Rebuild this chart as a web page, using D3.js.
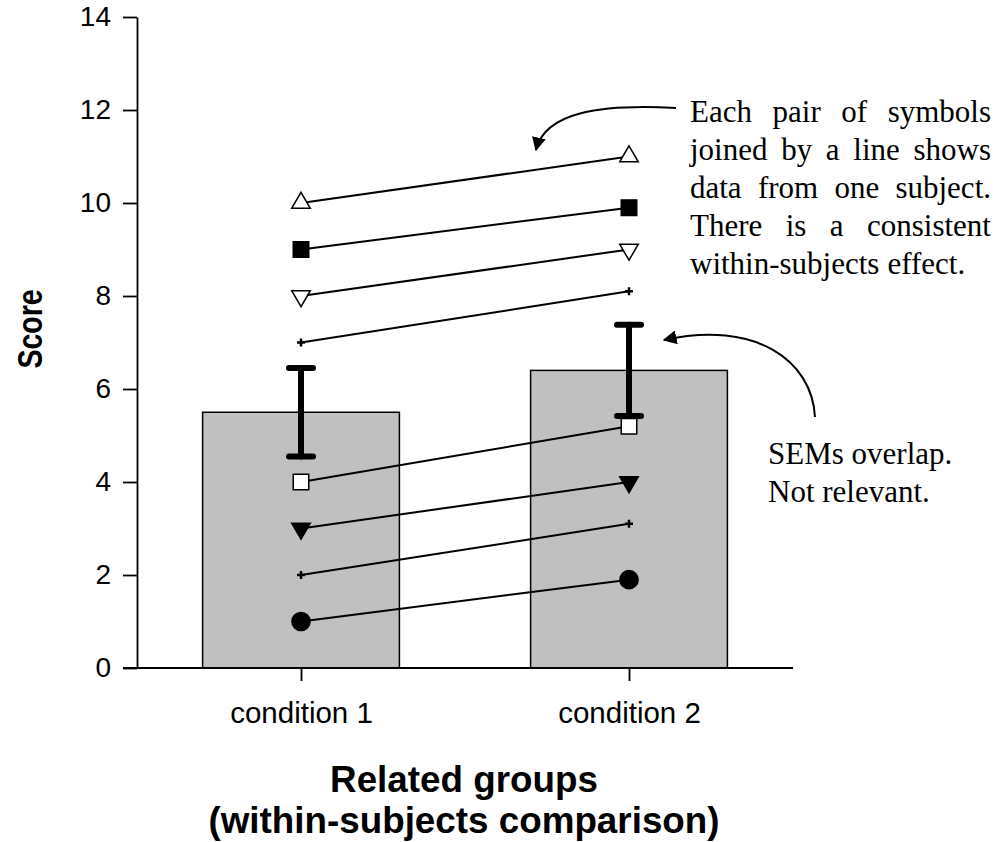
<!DOCTYPE html>
<html>
<head>
<meta charset="utf-8">
<script src="https://cdn.jsdelivr.net/npm/d3@7"></script>
<style>
  body { margin: 0; background: #fff; }
  svg { display: block; }
  .sans { font-family: "Liberation Sans", Arial, sans-serif; }
  .serif { font-family: "Liberation Serif", "Times New Roman", serif; }
</style>
</head>
<body>
<svg id="chart" width="1001" height="842"></svg>
<script>
// chart data
const conditions = ["condition 1", "condition 2"];
const means = [5.5, 6.4];
const sems = [0.95, 0.98];
const cond1Scores = [10, 9, 8, 7, 4, 3, 2, 1];
const cond2Scores = [11, 9.9, 9, 8.1, 5.2, 4, 3.1, 1.9];
const yTicks = [0, 2, 4, 6, 8, 10, 12, 14];
const noteTop = ["Each pair of symbols", "joined by a line shows", "data from one subject.", "There is a consistent", "within-subjects effect."];
const noteSem = ["SEMs overlap.", "Not relevant."];

// marker look for each subject, top to bottom
const markerStyle = [
  { shape: "up", fill: "#fff" },
  { shape: "square", fill: "#000" },
  { shape: "down", fill: "#fff" },
  { shape: "plus", fill: "#000" },
  { shape: "square", fill: "#fff" },
  { shape: "down", fill: "#000" },
  { shape: "plus", fill: "#000" },
  { shape: "circle", fill: "#000" }
];

const svg = d3.select("#chart");
const mLeft = 137, mRight = 793, mTop = 17, mBottom = 668;

const x = d3.scaleBand().domain(conditions).range([mLeft, mRight])
  .paddingInner(0.4).paddingOuter(0.2);
const y = d3.scaleLinear().domain([0, 14]).range([mBottom, mTop]);
const cx = d => x(d) + x.bandwidth() / 2;

// bars
svg.append("g").selectAll("rect").data(conditions).join("rect")
  .attr("x", d => x(d)).attr("width", x.bandwidth())
  .attr("y", (d, i) => y(means[i])).attr("height", (d, i) => y(0) - y(means[i]))
  .attr("fill", "#c0c0c0").attr("stroke", "#000").attr("stroke-width", 1.5);

// axes
const yAxis = svg.append("g").attr("class", "sans")
  .attr("transform", `translate(${mLeft},0)`)
  .call(d3.axisLeft(y).tickValues(yTicks).tickSize(14).tickPadding(12).tickSizeOuter(0));
yAxis.select(".domain").attr("stroke-width", 1.8);
yAxis.selectAll(".tick line").attr("stroke-width", 1.8);
yAxis.selectAll("text").attr("font-size", 28).attr("fill", "#000");

const xAxis = svg.append("g").attr("class", "sans")
  .attr("transform", `translate(0,${mBottom})`)
  .call(d3.axisBottom(d3.scalePoint().domain(conditions).range([cx(conditions[0]), cx(conditions[1])]))
    .tickSize(13).tickPadding(21).tickSizeOuter(0));
xAxis.select(".domain").remove();
xAxis.selectAll(".tick line").attr("stroke-width", 1.8);
xAxis.selectAll("text").attr("font-size", 29.5).attr("fill", "#000");
svg.append("line").attr("x1", mLeft - 14).attr("x2", mRight)
  .attr("y1", mBottom).attr("y2", mBottom).attr("stroke", "#000").attr("stroke-width", 1.8);

// error bars
const eb = svg.append("g").attr("stroke", "#000").attr("stroke-width", 6).attr("stroke-linecap", "round");
conditions.forEach((c, i) => {
  const xc = cx(c);
  eb.append("line").attr("x1", xc).attr("x2", xc).attr("y1", y(means[i] - sems[i])).attr("y2", y(means[i] + sems[i]));
  [means[i] - sems[i], means[i] + sems[i]].forEach(v =>
    eb.append("line").attr("x1", xc - 12).attr("x2", xc + 12).attr("y1", y(v)).attr("y2", y(v)));
});

// subject lines
svg.append("g").selectAll("line").data(cond1Scores).join("line")
  .attr("x1", cx(conditions[0])).attr("y1", d => y(d))
  .attr("x2", cx(conditions[1])).attr("y2", (d, i) => y(cond2Scores[i]))
  .attr("stroke", "#000").attr("stroke-width", 2);

// markers
function marker(g, s) {
  if (s.shape === "up") g.append("path").attr("d", d3.symbol(d3.symbolTriangle, 150)());
  else if (s.shape === "down") g.append("path").attr("d", d3.symbol(d3.symbolTriangle, 150)()).attr("transform", "rotate(180)");
  else if (s.shape === "square") g.append("path").attr("d", d3.symbol(d3.symbolSquare, 240)());
  else if (s.shape === "circle") g.append("path").attr("d", d3.symbol(d3.symbolCircle, 260)());
  else g.append("path").attr("d", "M-4,0H4M0,-4V4");
  g.selectAll("path").attr("fill", s.fill).attr("stroke", "#000").attr("stroke-width", s.shape === "plus" ? 2.5 : 1.5);
}
[cond1Scores, cond2Scores].forEach((scores, ci) => {
  scores.forEach((v, i) => {
    const g = svg.append("g").attr("transform", `translate(${cx(conditions[ci])},${y(v)})`);
    marker(g, markerStyle[i]);
  });
});

// axis titles
svg.append("text").attr("class", "sans").attr("font-weight", "bold").attr("font-size", 28.5)
  .attr("text-anchor", "middle").attr("transform", `translate(42,329) rotate(-90) scale(1,1.25)`)
  .text("Score");
svg.append("text").attr("class", "sans").attr("font-weight", "bold").attr("font-size", 36.8)
  .attr("text-anchor", "middle").attr("x", 464).attr("y", 792).text("Related groups");
svg.append("text").attr("class", "sans").attr("font-weight", "bold").attr("font-size", 36.8)
  .attr("text-anchor", "middle").attr("x", 464).attr("y", 833).text("(within-subjects comparison)");

// justified note
const noteX0 = 690, noteX1 = 991;
noteTop.forEach((line, li) => {
  const words = line.split(" ");
  const yy = 122 + li * 38;
  const last = li === noteTop.length - 1;
  const nodes = words.map(w => svg.append("text").attr("class", "serif").attr("font-size", 31).attr("y", yy).text(w));
  const widths = nodes.map(n => n.node().getComputedTextLength());
  const gap = last ? 8 : (noteX1 - noteX0 - d3.sum(widths)) / (words.length - 1);
  let xx = noteX0;
  nodes.forEach((n, k) => { n.attr("x", xx); xx += widths[k] + gap; });
});
noteSem.forEach((line, li) => {
  svg.append("text").attr("class", "serif").attr("font-size", 31)
    .attr("x", 768).attr("y", 464 + li * 38).text(line);
});

// curved arrows
svg.append("defs").append("marker").attr("id", "head").attr("viewBox", "0 0 10 10")
  .attr("refX", 9).attr("refY", 5).attr("markerWidth", 14).attr("markerHeight", 14)
  .attr("markerUnits", "userSpaceOnUse").attr("orient", "auto")
  .append("path").attr("d", "M0,0L10,5L0,10Z").attr("fill", "#000");
svg.append("path").attr("d", "M676,108 C600,104 545,112 536,150")
  .attr("fill", "none").attr("stroke", "#000").attr("stroke-width", 2).attr("marker-end", "url(#head)");
svg.append("path").attr("d", "M815,417 C812,360 755,320 664,340")
  .attr("fill", "none").attr("stroke", "#000").attr("stroke-width", 2).attr("marker-end", "url(#head)");
</script>
</body>
</html>
